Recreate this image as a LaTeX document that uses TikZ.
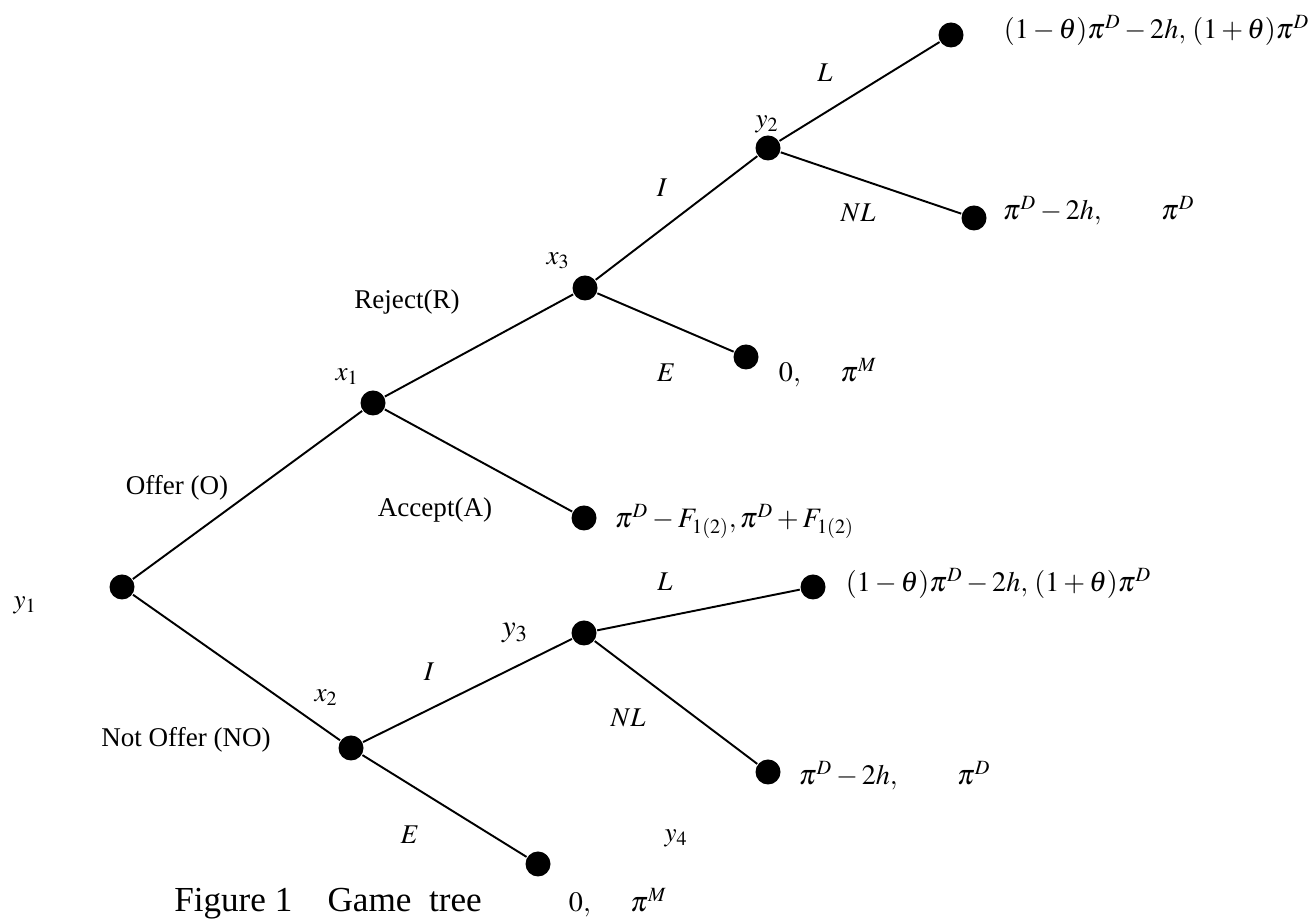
\documentclass[tikz,border=0pt]{standalone}
\usepackage{amsmath}
\usepackage{mathptmx}
\usepackage{fontspec}
\setmainfont{Liberation Serif}
\usepackage{tikz}
\DeclareMathSizes{16}{16}{11.5}{9}

\begin{document}
\begin{tikzpicture}[every node/.style={font=\fontsize{15.4}{18}\selectfont},
  vtx/.style={circle, fill=black, inner sep=0pt, minimum size=0.5cm},
  pay/.style={anchor=base west, inner sep=0pt, font=\fontsize{16}{19}\selectfont},
  line width=1.1pt]
  \useasboundingbox (0,0) rectangle (26.32,18.42);
  % decision nodes and end nodes
  \node[vtx] (y1) at (2.44,6.68)   {};
  \node[vtx] (x1) at (7.46,10.36)  {};
  \node[vtx] (x3) at (11.70,12.66) {};
  \node[vtx] (y2) at (15.36,15.46) {};
  \node[vtx] (t1) at (19.02,17.72) {};
  \node[vtx] (t2) at (19.48,14.06) {};
  \node[vtx] (t3) at (14.92,11.28) {};
  \node[vtx] (t4) at (11.68,8.06)  {};
  \node[vtx] (x2) at (7.02,3.46)   {};
  \node[vtx] (y3) at (11.68,5.76)  {};
  \node[vtx] (t5) at (16.26,6.68)  {};
  \node[vtx] (t6) at (15.36,2.98)  {};
  \node[vtx] (t7) at (10.76,1.14)  {};
  % moves
  \draw (y1) -- (x1);
  \draw (x1) -- (x3);
  \draw (x3) -- (y2);
  \draw (y2) -- (t1);
  \draw (y2) -- (t2);
  \draw (x3) -- (t3);
  \draw (x1) -- (t4);
  \draw (y1) -- (x2);
  \draw (x2) -- (y3);
  \draw (y3) -- (t5);
  \draw (y3) -- (t6);
  \draw (x2) -- (t7);
  % who moves
  \node (ny1) at (0.50,6.32)  {$y_1$};
  \node (nx1) at (6.94,10.88) {$x_1$};
  \node (nx3) at (11.16,13.20) {$x_3$};
  \node (ny2) at (15.34,15.94) {$y_2$};
  \node (nx2) at (6.52,4.46)  {$x_2$};
  \node[font=\fontsize{17.5}{20}\selectfont] (ny3) at (10.30,5.76) {$y_3$};
  \node (ny4) at (13.52,1.66) {$y_4$};
  % actions
  \node (aL1) at (16.50,16.96) {$L$};
  \node (aI1) at (13.24,14.66) {$I$};
  \node (aN1) at (17.16,14.16) {$NL$};
  \node (aR)  at (8.14,12.38)  {Reject(R)};
  \node (aE1) at (13.32,10.96) {$E$};
  \node (aO)  at (3.54,8.66)   {Offer (O)};
  \node (aA)  at (8.70,8.22)   {Accept(A)};
  \node (aL2) at (13.30,6.78)  {$L$};
  \node (aI2) at (8.58,4.98)   {$I$};
  \node (aN2) at (12.56,4.06)  {$NL$};
  \node (aNO) at (3.72,3.62)   {Not Offer (NO)};
  \node (aE2) at (8.20,1.72)   {$E$};
  % payoffs
  \node[pay] (p1) at (20.06,17.64) {$(1-\theta)\pi^D-2h,\,(1+\theta)\pi^D$};
  \node[pay] (p2) at (20.04,14.02) {$\pi^D-2h,\hspace{2em}\pi^D$};
  \node[pay] (p3) at (15.56,10.78) {$0,\hspace{1.3em}\pi^M$};
  \node[pay] (p4) at (12.28,7.86)  {$\pi^D-F_{1(2)},\pi^D+F_{1(2)}$};
  \node[pay] (p5) at (16.90,6.58)  {$(1-\theta)\pi^D-2h,\,(1+\theta)\pi^D$};
  \node[pay] (p6) at (15.96,2.72)  {$\pi^D-2h,\hspace{2em}\pi^D$};
  \node[pay] (p7) at (11.36,0.18)  {$0,\hspace{1.3em}\pi^M$};
  \node[anchor=base, font=\fontsize{20}{24}\selectfont] (cap) at (6.56,0.18) {Figure 1\quad Game\enspace tree};
\end{tikzpicture}
\end{document}
